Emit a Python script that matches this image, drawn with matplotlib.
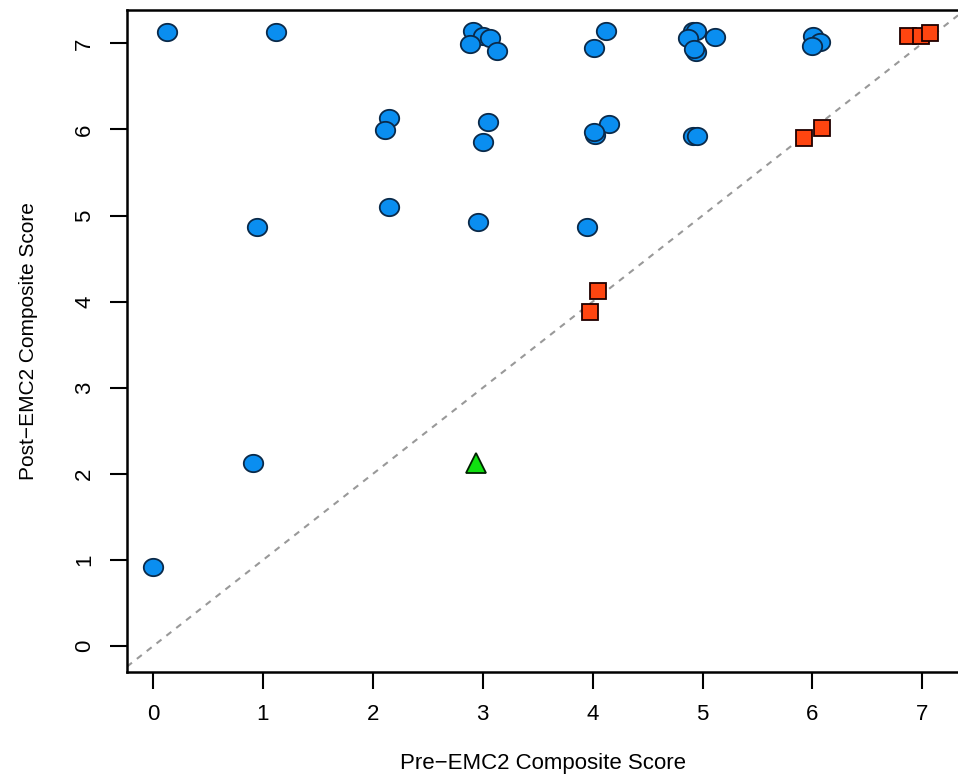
import matplotlib.pyplot as plt
import numpy as np
from matplotlib.path import Path

plt.rcParams['font.family'] = ['Liberation Sans', 'DejaVu Sans']

# blue circles: post score > pre score
improved_pre = [0.13, 1.12, 2.91, 3.00, 3.07, 2.88, 3.13,
                4.12, 4.01, 4.91, 4.94, 4.87, 5.11, 4.94, 4.92,
                6.01, 6.07, 6.00,
                2.15, 2.11, 3.05, 3.00, 4.15, 4.02, 4.01, 4.91, 4.95,
                2.15, 2.96, 0.95, 3.95,
                0.91, 0.00]
improved_post = [7.13, 7.13, 7.14, 7.09, 7.06, 6.99, 6.91,
                 7.14, 6.94, 7.14, 7.14, 7.06, 7.07, 6.90, 6.93,
                 7.09, 7.01, 6.97,
                 6.13, 5.99, 6.09, 5.86, 6.06, 5.93, 5.97, 5.92, 5.92,
                 5.10, 4.93, 4.87, 4.87,
                 2.13, 0.92]

# red squares: no change
same_pre = [6.87, 6.99, 7.07, 5.92, 6.09, 4.05, 3.98]
same_post = [7.09, 7.09, 7.12, 5.90, 6.02, 4.12, 3.88]

# green triangle: declined
worse_pre = [2.94]
worse_post = [2.13]

# slightly wide circle like the stretched original
t = np.linspace(0, 2 * np.pi, 60)
ellipse = Path(np.column_stack([1.12 * np.cos(t), np.sin(t)]), closed=True)

fig = plt.figure(figsize=(9.58, 7.75), dpi=100)
ax = fig.add_axes([0.1326, 0.1329, 0.8674, 0.8542])

ax.axline((0, 0), slope=1, color='#999999', linestyle=(0, (3, 3)), linewidth=1.5, zorder=1)

ax.plot(improved_pre, improved_post, linestyle='none', marker=ellipse, markersize=14,
        mfc='#0a8ef0', mec='#0a2a4a', mew=1.3, zorder=3)
ax.plot(same_pre, same_post, linestyle='none', marker='s', markersize=11,
        mfc='#ff4510', mec='#200000', mew=1.3, zorder=3)
ax.plot(worse_pre, worse_post, linestyle='none', marker='^', markersize=15,
        mfc='#10e010', mec='#002000', mew=1.3, zorder=3)

ax.set_xlim(-0.237, 7.325)
ax.set_ylim(-0.30, 7.387)
ax.set_xticks(range(8))
ax.set_yticks(range(8))

for side in ['left', 'bottom', 'top']:
    ax.spines[side].set_linewidth(1.8)
ax.spines['right'].set_visible(False)

ax.tick_params(axis='both', length=12, width=1.5, labelsize=16, pad=11)
for lab in ax.get_yticklabels():
    lab.set_rotation(90)
    lab.set_va('center')

ax.set_xlabel('Pre\u2212EMC2 Composite Score', fontsize=16, labelpad=20)
ax.set_ylabel('Post\u2212EMC2 Composite Score', fontsize=15, labelpad=26)

fig.savefig('out.png', dpi=100)
